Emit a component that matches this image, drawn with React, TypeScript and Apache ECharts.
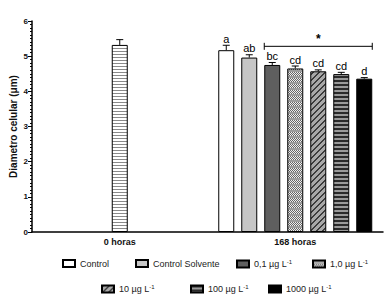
import React, { useEffect, useRef } from 'react';
import * as echarts from 'echarts';

const timeCategories = ['0 horas', '168 horas'];
const groupNames = ['Control', 'Control Solvente', '0,1 µg L-1', '1,0 µg L-1', '10 µg L-1', '100 µg L-1', '1000 µg L-1'];
const means168 = [5.17, 4.96, 4.75, 4.65, 4.57, 4.49, 4.36];
const errors168 = [0.14, 0.08, 0.07, 0.07, 0.04, 0.05, 0.03];
const letters168 = ['a', 'ab', 'bc', 'cd', 'cd', 'cd', 'd'];
const mean0h = [5.32];
const error0h = [0.15];
const bracketGroups = [2, 6];
const bracketLevel = [5.28];
const bracketMark = ['*'];

const FONT = 'Liberation Sans, Arial, Helvetica, sans-serif';
const BAR_W = 16;
const BAR_SPACE = 7;

type Draw = (ctx: CanvasRenderingContext2D, w: number, h: number) => void;
function makePattern(w: number, h: number, draw: Draw) {
  const c = document.createElement('canvas');
  c.width = w;
  c.height = h;
  const ctx = c.getContext('2d') as CanvasRenderingContext2D;
  draw(ctx, w, h);
  return { image: c.toDataURL(), repeat: 'repeat', imageWidth: w, imageHeight: h } as any;
}
function px(ctx: CanvasRenderingContext2D, x: number, y: number, color: string) {
  ctx.fillStyle = color;
  ctx.fillRect(x, y, 1, 1);
}

export default function App() {
  const ref = useRef<HTMLDivElement>(null);
  useEffect(() => {
    if (!ref.current) return;
    const chart = echarts.init(ref.current, null, { renderer: 'svg' });

    const pat0h = makePattern(2, 3, (ctx, w, h) => {
      for (let y = 0; y < h; y++) for (let x = 0; x < w; x++) px(ctx, x, y, y === 0 ? '#8a8a8a' : '#ffffff');
    });
    const patChecker = makePattern(4, 6, (ctx, w, h) => {
      for (let y = 0; y < h; y++)
        for (let x = 0; x < w; x++)
          px(ctx, x, y, y < 4 ? ((x + y) % 2 === 0 ? '#666666' : '#eeeeee') : '#9c9c9c');
    });
    const patDiag = makePattern(6, 6, (ctx, w, h) => {
      for (let y = 0; y < h; y++)
        for (let x = 0; x < w; x++) px(ctx, x, y, (x + y) % 6 < 2 ? '#3c3c3c' : '#a8a8a8');
    });
    const patStripes = makePattern(2, 4, (ctx, w, h) => {
      for (let y = 0; y < h; y++) for (let x = 0; x < w; x++) px(ctx, x, y, y < 2 ? '#2a2a2a' : '#9a9a9a');
    });

    const fills: any[] = ['#ffffff', '#c6c6c6', '#5f5f5f', patChecker, patDiag, patStripes, '#000000'];

    const legendPos = [
      [62, 259], [135, 259], [236, 259], [312, 259],
      [101, 284], [190, 284], [268, 284],
    ];

    const barSeries: any[] = groupNames.map((name, i) => ({
      name,
      type: 'bar',
      xAxisIndex: 0,
      yAxisIndex: 0,
      barWidth: BAR_W,
      barGap: (BAR_SPACE / BAR_W) * 100 + '%',
      data: ['-', means168[i]],
      itemStyle: { color: fills[i], borderColor: '#000', borderWidth: 1 },
      z: 2,
    }));

    const textStyle = (text: string, size: number, weight: string) => ({
      text,
      fontFamily: FONT,
      fontSize: size,
      fontWeight: weight,
      fill: '#000000',
      stroke: 'transparent',
      lineWidth: 0,
      opacity: 1,
      align: 'center',
      verticalAlign: 'bottom',
    });

    const option: any = {
      animation: false,
      backgroundColor: '#ffffff',
      grid: { left: 32, right: 6, top: 21, bottom: 69, containLabel: false, outerBoundsMode: 'none' },
      legend: groupNames.map((name, i) => ({
        data: [name],
        left: legendPos[i][0],
        top: legendPos[i][1],
        itemWidth: 12,
        itemHeight: 7,
        icon: 'rect',
        itemGap: 6,
        selectedMode: false,
        padding: 0,
        textStyle: {
          fontFamily: FONT,
          fontSize: 9,
          color: '#222',
          rich: {
            sup: { fontFamily: FONT, fontSize: 6, color: '#222', verticalAlign: 'top', padding: [0, 0, 4, 0] },
          },
        },
        formatter: (n: string) => n.replace('L-1', 'L{sup|-1}'),
      })),
      xAxis: [
        {
          type: 'category',
          data: timeCategories,
          boundaryGap: true,
          axisLine: { lineStyle: { color: '#000', width: 1.5 } },
          axisTick: { alignWithLabel: true, length: 3, lineStyle: { color: '#000', width: 1 } },
          axisLabel: { fontFamily: FONT, fontSize: 9, fontWeight: 'bold', color: '#111', margin: 5 },
        },
        { type: 'category', data: timeCategories, show: false, boundaryGap: true },
      ],
      yAxis: {
        type: 'value',
        min: 0,
        max: 6,
        interval: 1,
        name: 'Diametro celular (μm)',
        nameLocation: 'middle',
        nameGap: 14,
        nameMoveOverlap: false,
        nameTextStyle: { fontFamily: FONT, fontSize: 10, fontWeight: 'bold', color: '#111' },
        axisLine: { show: true, lineStyle: { color: '#000', width: 1.5 } },
        axisTick: { show: true, length: 4, lineStyle: { color: '#000' } },
        minorTick: { show: true, splitNumber: 10, length: 2, lineStyle: { color: '#000' } },
        splitLine: { show: false },
        axisLabel: { fontFamily: FONT, fontSize: 8, fontWeight: 'bold', color: '#111', margin: 4 },
      },
      series: [
        {
          name: 'base',
          type: 'bar',
          xAxisIndex: 1,
          barWidth: BAR_W,
          data: [mean0h[0], '-'],
          itemStyle: { color: pat0h, borderColor: '#000', borderWidth: 1 },
          z: 2,
        },
        ...barSeries,
        {
          type: 'custom',
          xAxisIndex: 1,
          z: 3,
          silent: true,
          itemStyle: { color: '#000' },
          data: [[0, mean0h[0], error0h[0]]],
          renderItem: (params: any, api: any) => {
            const base = api.coord([api.value(0), api.value(1)]);
            const top = api.coord([api.value(0), api.value(1) + api.value(2)]);
            const x = base[0];
            return {
              type: 'group',
              children: [
                { type: 'line', shape: { x1: x, y1: base[1], x2: x, y2: top[1] }, style: { stroke: '#000', lineWidth: 1 } },
                { type: 'line', shape: { x1: x - 3.5, y1: top[1], x2: x + 3.5, y2: top[1] }, style: { stroke: '#000', lineWidth: 1 } },
              ],
            };
          },
        },
        {
          type: 'custom',
          xAxisIndex: 0,
          z: 3,
          silent: true,
          itemStyle: { color: '#000' },
          data: means168.map((m, i) => [1, m, errors168[i], i]),
          renderItem: (params: any, api: any) => {
            const idx = api.value(3);
            const n = means168.length;
            const base = api.coord([api.value(0), api.value(1)]);
            const top = api.coord([api.value(0), api.value(1) + api.value(2)]);
            const x = base[0] + (idx - (n - 1) / 2) * (BAR_W + BAR_SPACE);
            return {
              type: 'group',
              children: [
                { type: 'line', shape: { x1: x, y1: base[1], x2: x, y2: top[1] }, style: { stroke: '#000', lineWidth: 1 } },
                { type: 'line', shape: { x1: x - 3.5, y1: top[1], x2: x + 3.5, y2: top[1] }, style: { stroke: '#000', lineWidth: 1 } },
                { type: 'text', x, y: top[1] - 1, style: textStyle(letters168[params.dataIndex], 11, 'normal') },
              ],
            };
          },
        },
        {
          type: 'custom',
          xAxisIndex: 0,
          z: 3,
          silent: true,
          itemStyle: { color: '#000' },
          data: [[1, bracketLevel[0], bracketGroups[0], bracketGroups[1]]],
          renderItem: (params: any, api: any) => {
            const n = means168.length;
            const c = api.coord([api.value(0), api.value(1)]);
            const off = (k: number) => (k - (n - 1) / 2) * (BAR_W + BAR_SPACE);
            const x1 = c[0] + off(api.value(2)) - BAR_W / 2;
            const x2 = c[0] + off(api.value(3)) + BAR_W / 2;
            const y = c[1];
            const st = { stroke: '#000', lineWidth: 1 };
            return {
              type: 'group',
              children: [
                { type: 'line', shape: { x1, y1: y, x2, y2: y }, style: st },
                { type: 'line', shape: { x1, y1: y - 3.5, x2: x1, y2: y + 3.5 }, style: st },
                { type: 'line', shape: { x1: x2, y1: y - 3.5, x2, y2: y + 3.5 }, style: st },
                { type: 'text', x: (x1 + x2) / 2, y: y - 1, style: textStyle(bracketMark[0], 12, 'bold') },
              ],
            };
          },
        },
      ],
    };
    chart.setOption(option);
    return () => chart.dispose();
  }, []);
  return <div ref={ref} style={{ position: 'fixed', left: 0, top: 0, width: 389, height: 301, background: '#fff' }} />;
}
